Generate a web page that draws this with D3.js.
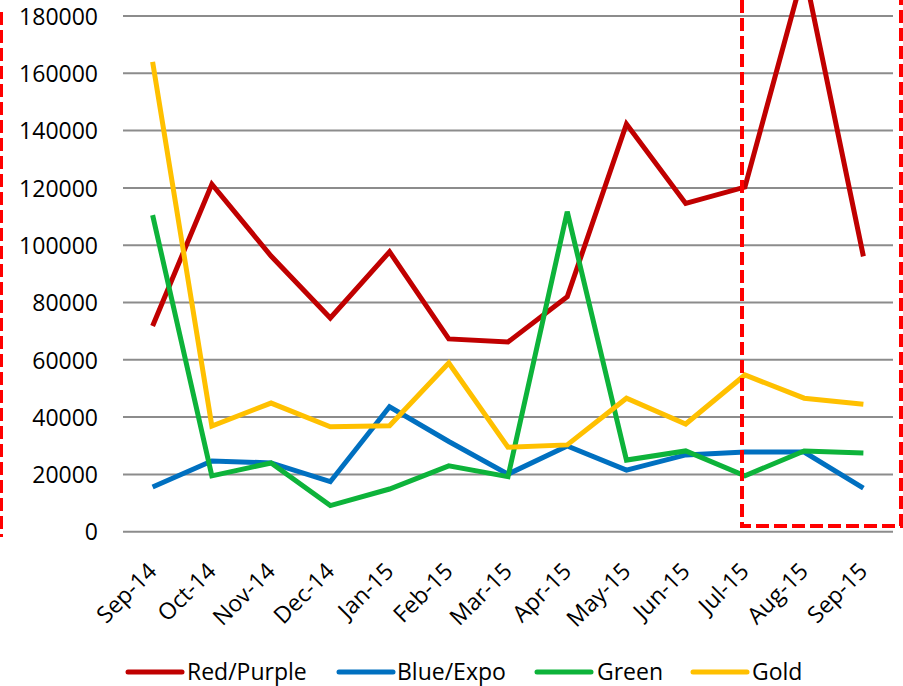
<!DOCTYPE html>
<html>
<head>
<meta charset="utf-8">
<script src="https://cdn.jsdelivr.net/npm/d3@7"></script>
<style>
  html, body { margin: 0; padding: 0; background: #fff; }
  svg { display: block; }
  text { font-family: "Open Sans", "Liberation Sans", sans-serif; fill: #000; }
</style>
</head>
<body>
<svg id="chart" width="903" height="686"></svg>
<script>
const categories = ["Sep-14","Oct-14","Nov-14","Dec-14","Jan-15","Feb-15","Mar-15","Apr-15","May-15","Jun-15","Jul-15","Aug-15","Sep-15"];
const redPurple = [71800, 121300, 96200, 74600, 97700, 67300, 66200, 82000, 142300, 114600, 120300, 196000, 96100];
const blueExpo  = [15600, 24700, 24000, 17450, 43600, 31500, 20100, 29900, 21500, 26800, 27800, 27800, 15200];
const green     = [110500, 19500, 24000, 9100, 14900, 23000, 19200, 111700, 25000, 28200, 19500, 28200, 27500];
const gold      = [164000, 36900, 44900, 36600, 37000, 58900, 29500, 30300, 46600, 37600, 54700, 46600, 44500];
const yTicks = [0, 20000, 40000, 60000, 80000, 100000, 120000, 140000, 160000, 180000];
const seriesNames = ["Red/Purple", "Blue/Expo", "Green", "Gold"];
const seriesColors = ["#C00000", "#0070C0", "#0DB33A", "#FFC000"];

const series = [redPurple, blueExpo, green, gold].map((values, i) => ({
  name: seriesNames[i], color: seriesColors[i], values
}));

const svg = d3.select("#chart");
const plotLeft = 123, plotRight = 893, plotTop = 16, plotBottom = 531.7;

const x = d3.scalePoint().domain(categories).range([plotLeft, plotRight]).padding(0.5);
const y = d3.scaleLinear().domain([0, 180000]).range([plotBottom, plotTop]);

// gridlines
svg.append("g").selectAll("line").data(yTicks).join("line")
  .attr("x1", plotLeft).attr("x2", plotRight)
  .attr("y1", d => y(d)).attr("y2", d => y(d))
  .attr("stroke", "#8c8c8c").attr("stroke-width", 2);

// y axis labels
const yAxis = d3.axisLeft(y).tickValues(yTicks).tickSize(0).tickPadding(0).tickFormat(d3.format("d"));
const yg = svg.append("g").attr("transform", `translate(98,0)`).call(yAxis);
yg.select(".domain").remove();
yg.selectAll("text").attr("font-size", 23).attr("font-family", "'Open Sans', sans-serif").attr("fill", "#000").attr("dy", "0.36em");

// x axis labels
const xAxis = d3.axisBottom(x).tickSize(0).tickPadding(0);
const xg = svg.append("g").attr("transform", `translate(0,${plotBottom})`).call(xAxis);
xg.select(".domain").remove();
xg.selectAll("text")
  .attr("font-size", 23).attr("font-family", "'Open Sans', sans-serif").attr("fill", "#000")
  .attr("text-anchor", "end")
  .attr("dy", null).attr("y", 0)
  .attr("transform", d => `translate(5,41) rotate(-45)`);

// lines
const line = d3.line().x((d, i) => x(categories[i])).y(d => y(d));
svg.append("g").selectAll("path").data(series).join("path")
  .attr("d", d => line(d.values))
  .attr("fill", "none")
  .attr("stroke", d => d.color)
  .attr("stroke-width", 5)
  .attr("stroke-linejoin", "miter")
  .attr("stroke-linecap", "butt");

// red dashed annotation boxes
const dash = "13,5";
const ann = svg.append("g").attr("fill", "none").attr("stroke", "#FF0000").attr("stroke-width", 4).attr("stroke-dasharray", dash);
ann.append("line").attr("x1", 1).attr("x2", 1).attr("y1", 12).attr("y2", 537);
ann.append("path").attr("d", "M742,0 L742,526 L901,526 L901,0");

// legend
const legendItems = [
  { lx: 128, tx: 187 },
  { lx: 339, tx: 397 },
  { lx: 537, tx: 597 },
  { lx: 693, tx: 752 }
];
const lg = svg.append("g");
series.forEach((s, i) => {
  const it = legendItems[i];
  lg.append("line").attr("x1", it.lx).attr("x2", it.lx + 54)
    .attr("y1", 672).attr("y2", 672)
    .attr("stroke", s.color).attr("stroke-width", 5).attr("stroke-linecap", "round");
  lg.append("text").attr("x", it.tx).attr("y", 680)
    .attr("font-size", 23).text(s.name);
});
</script>
</body>
</html>
